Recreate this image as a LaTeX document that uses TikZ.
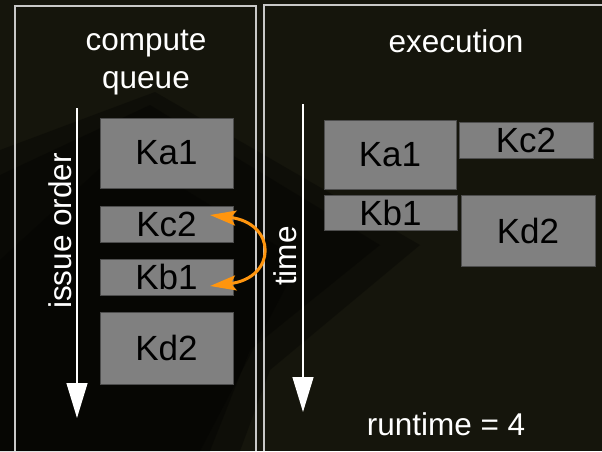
\documentclass[tikz,border=0pt]{standalone}
\usepackage{fontspec}
\setmainfont{Liberation Sans}
\usetikzlibrary{arrows.meta}
\definecolor{bgdark}{RGB}{21,21,12}
\definecolor{boxgray}{RGB}{128,128,128}
\definecolor{swaporange}{RGB}{255,149,14}
\definecolor{panelline}{RGB}{200,200,200}

\begin{document}
\begin{tikzpicture}[x=1pt, y=-1pt,
    kbox/.style={fill=boxgray, draw=boxgray!60!black, line width=0.6pt, inner sep=0pt, text=black, font=\fontsize{35}{40}\selectfont},
    headtext/.style={text=white, inner sep=0pt, font=\fontsize{31.5}{38}\selectfont},
    panel/.style={draw=panelline, line width=1.3pt},
    timeline/.style={draw=white, line width=1.3pt, -{Triangle[width=21pt,length=35pt]}},
    swaparrow/.style={draw=swaporange, line width=3pt, {Stealth[length=26pt,width=15pt,inset=5pt]}-{Stealth[length=26pt,width=15pt,inset=5pt]}}]
    \useasboundingbox (0,0) rectangle (602,451);
    % background
    \fill[bgdark] (0,0) rectangle (602,451);
    \fill[black, opacity=0.3] (0,150) -- (155,92) -- (420,245) -- (270,370) -- (240,451) -- (0,451) -- cycle;
    \fill[black, opacity=0.3] (0,175) -- (150,105) -- (380,245) -- (250,350) -- (210,451) -- (0,451) -- cycle;
    \fill[black, opacity=0.3] (0,260) -- (120,150) -- (300,260) -- (200,451) -- (0,451) -- cycle;

    % panels
    \draw[panel] (15,451) -- (15,6) -- (256,6) -- (256,451);
    \draw[panel] (264,451) -- (264,5) -- (602,5);

    % compute queue
    \node[headtext, align=center] (qtitle) at (146,63) {compute\\queue};
    \node[kbox, minimum width=133pt, minimum height=70pt] (qa1) at (166.5,153) {Ka1};
    \node[kbox, minimum width=133pt, minimum height=36pt] (qc2) at (166.5,224) {Kc2};
    \node[kbox, minimum width=133pt, minimum height=36pt] (qb1) at (166.5,277) {Kb1};
    \node[kbox, minimum width=133pt, minimum height=72pt] (qd2) at (166.5,348) {Kd2};
    \coordinate (io start) at (77,108);
    \coordinate (io end) at (77,418);
    \draw[timeline] (io start) -- (io end);
    \node[headtext, rotate=90] (iolabel) at (60,231) {issue order};
    \coordinate (swap a) at (210,215);
    \coordinate (swap b) at (210,286);
    \draw[swaparrow] (swap a) .. controls (277,223) and (277,278) .. (swap b);

    % execution
    \node[headtext] (etitle) at (456,41) {execution};
    \node[kbox, minimum width=132pt, minimum height=69pt] (ea1) at (390,154.5) {Ka1};
    \node[kbox, minimum width=134pt, minimum height=36pt] (ec2) at (526,140) {Kc2};
    \node[kbox, minimum width=133pt, minimum height=35pt] (eb1) at (390.5,212.5) {Kb1};
    \node[kbox, minimum width=134pt, minimum height=71pt] (ed2) at (528,230.5) {Kd2};
    \coordinate (t start) at (303,104);
    \coordinate (t end) at (303,412);
    \draw[timeline] (t start) -- (t end);
    \node[headtext, rotate=90] (tlabel) at (285.5,256) {time};
    \node[headtext] (runtime) at (446,424) {runtime = 4};
\end{tikzpicture}
\end{document}
